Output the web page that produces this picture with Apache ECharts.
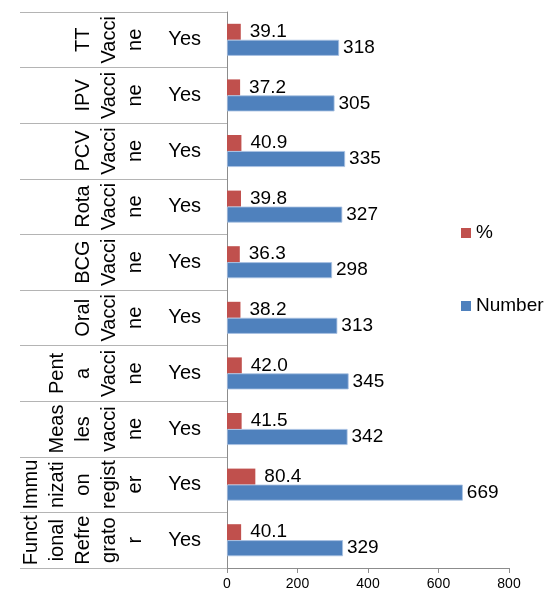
<!DOCTYPE html>
<html>
<head>
<meta charset="utf-8">
<style>html,body{margin:0;padding:0;background:#fff;}#chart{width:546px;height:592px;}</style>
<script src="https://cdn.jsdelivr.net/npm/echarts@6/dist/echarts.min.js"></script>
</head>
<body>
<div id="chart"></div>
<script>
// Outer category labels (top to bottom), pre-wrapped as in the reference
const categories = [
  "TT\nVacci\nne",
  "IPV\nVacci\nne",
  "PCV\nVacci\nne",
  "Rota\nVacci\nne",
  "BCG\nVacci\nne",
  "Oral\nVacci\nne",
  "Pent\na\nVacci\nne",
  "Meas\nles\nvacci\nne",
  "Immu\nnizati\non\nregist\ner",
  "Funct\nional\nRefre\ngrato\nr"
];
const innerLabels = ["Yes","Yes","Yes","Yes","Yes","Yes","Yes","Yes","Yes","Yes"];
const percentValues = [39.1, 37.2, 40.9, 39.8, 36.3, 38.2, 42.0, 41.5, 80.4, 40.1];
const numberValues = [318, 305, 335, 327, 298, 313, 345, 342, 669, 329];
const xTicks = { min: 0, max: 800, interval: 200 };

const FONT = "Liberation Sans, Arial, sans-serif";
const OUTER_MARGIN = 79;
const chart = echarts.init(document.getElementById('chart'));
chart.setOption({
  animation: false,
  backgroundColor: '#fff',
  textStyle: { fontFamily: FONT },
  grid: { left: 227, right: 37, top: 12, bottom: 24, outerBoundsMode: 'none' },
  legend: {
    orient: 'vertical',
    left: 456, top: 218,
    itemWidth: 10, itemHeight: 10, itemGap: 53,
    icon: 'rect',
    data: ['%', 'Number'],
    itemStyle: { borderWidth: 0 },
    textStyle: { fontSize: 19, color: '#000', fontFamily: FONT, lineHeight: 20 }
  },
  xAxis: {
    type: 'value',
    min: xTicks.min, max: xTicks.max, interval: xTicks.interval,
    splitLine: { show: false },
    axisLine: { show: true, lineStyle: { color: '#8C8C8C', width: 1 } },
    axisTick: { show: true, length: 5, lineStyle: { color: '#8C8C8C' } },
    axisLabel: { fontSize: 14, color: '#000', margin: 9, fontFamily: FONT }
  },
  yAxis: {
    type: 'category',
    position: 'left',
    inverse: true,
    data: categories,
    axisLine: { show: true, lineStyle: { color: '#8C8C8C', width: 1 } },
    axisTick: { show: true, length: 207, interval: 0, lineStyle: { color: '#B4B4B4', width: 1 } },
    axisLabel: {
      interval: 0,
      margin: 26,
      fontSize: 20, color: '#000', fontFamily: FONT,
      formatter: (v, i) => innerLabels[i]
    }
  },
  series: [
    {
      name: '%',
      type: 'bar',
      data: percentValues,
      barWidth: 16,
      barGap: '0%',
      itemStyle: { color: '#C0504D' },
      label: {
        show: true, position: 'right', distance: 9,
        fontSize: 19, color: '#000', fontFamily: FONT,
        formatter: p => p.value.toFixed(1)
      }
    },
    {
      name: 'Number',
      type: 'bar',
      data: numberValues,
      barWidth: 16,
      barGap: '0%',
      itemStyle: { color: '#4F81BD', borderColor: '#A9C2E2', borderWidth: 0.8 },
      label: {
        show: true, position: 'right', distance: 4,
        fontSize: 19, color: '#000', fontFamily: FONT
      }
    },
    {
      name: 'outerLabels',
      type: 'custom',
      silent: true,
      clip: false,
      data: categories.map((c, i) => [0, i]),
      renderItem: (params, api) => {
        const pt = api.coord([0, api.value(1)]);
        return {
          type: 'text',
          x: pt[0] - OUTER_MARGIN,
          y: pt[1],
          rotation: Math.PI / 2,
          style: {
            text: categories[params.dataIndex],
            align: 'center',
            verticalAlign: 'bottom',
            fontSize: 20,
            lineHeight: 26,
            fontFamily: FONT,
            fill: '#000'
          }
        };
      }
    }
  ]
});
</script>
</body>
</html>
